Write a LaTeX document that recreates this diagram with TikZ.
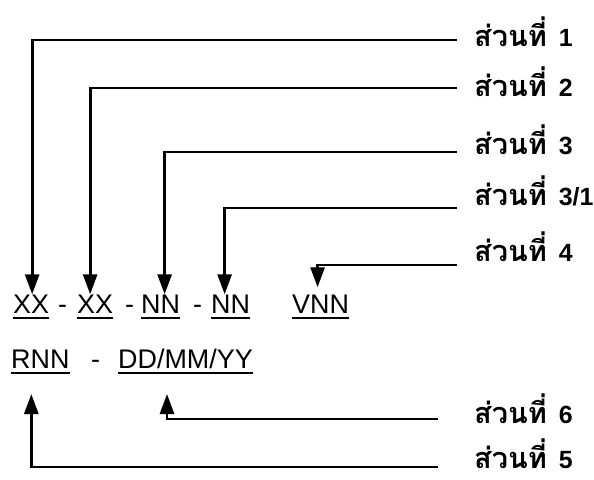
\documentclass[tikz,border=0pt]{standalone}
\usepackage{fontspec}
\setsansfont{Liberation Sans}
\newfontfamily\thaifont[Script=Thai]{Loma}
\usetikzlibrary{arrows.meta}
\tikzset{
  conn/.style={line width=2.8bp, -{Triangle[width=14bp,length=20bp]}},
  tok/.style={inner sep=0pt, anchor=base west, font=\sffamily\fontsize{27}{27}\selectfont},
  lab/.style={inner sep=0pt, anchor=base west},
  uline/.style={line width=1.8bp}
}
\newcommand{\partlabel}[1]{{\thaifont\bfseries\fontsize{29}{29}\selectfont ส่วนที่}\hspace{12bp}{\sffamily\bfseries\fontsize{25}{25}\selectfont #1}}
\begin{document}
\begin{tikzpicture}[x=1bp,y=-1bp]
\useasboundingbox (0,0) rectangle (594,480);
% code row 1
\node[tok] (x1) at (13,313) {XX};
\node[tok] (h1) at (58,313) {-};
\node[tok] (x2) at (77,313) {XX};
\node[tok] (h2) at (125,313) {-};
\node[tok] (n1) at (141,313) {NN};
\node[tok] (h3) at (193,313) {-};
\node[tok] (n2) at (211,313) {NN};
\node[tok] (v) at (292,313) {VNN};
% code row 2
\node[tok] (r) at (11,368) {RNN};
\node[tok] (h4) at (91,368) {-};
\node[tok] (dd) at (118,368) {DD/MM/YY};
% underlines
\foreach \t in {x1,x2,n1,n2,v,r,dd}
  \draw[uline] ([yshift=-5bp]\t.base west) -- ([yshift=-5bp]\t.base east);
% labels
\node[lab] (l1) at (474,47) {\partlabel{1}};
\node[lab] (l2) at (474,97) {\partlabel{2}};
\node[lab] (l3) at (474,155) {\partlabel{3}};
\node[lab] (l31) at (474,206) {\partlabel{3/1}};
\node[lab] (l4) at (474,261) {\partlabel{4}};
\node[lab] (l6) at (474,423) {\partlabel{6}};
\node[lab] (l5) at (474,468) {\partlabel{5}};
% connectors
\draw[conn] ([xshift=-17bp,yshift=7bp]l1.base west) -| ([xshift=1bp]x1.north);
\draw[conn] ([xshift=-17bp,yshift=9bp]l2.base west) -| ([xshift=-5bp]x2.north);
\draw[conn] ([xshift=-17bp,yshift=3bp]l3.base west) -| ([xshift=4bp]n1.north);
\draw[conn] ([xshift=-17bp,yshift=-2bp]l31.base west) -| ([xshift=-6bp]n2.north);
\draw[conn] ([xshift=-17bp,yshift=-4bp]l4.base west) -| ([xshift=-3bp,yshift=7bp]v.north);
\draw[conn] ([xshift=-36bp,yshift=4bp]l6.base west) -| ([xshift=49bp,yshift=-26bp]dd.base west);
\draw[conn] ([xshift=-36bp,yshift=1bp]l5.base west) -| ([xshift=-9bp,yshift=-26bp]r.base);
\end{tikzpicture}
\end{document}
